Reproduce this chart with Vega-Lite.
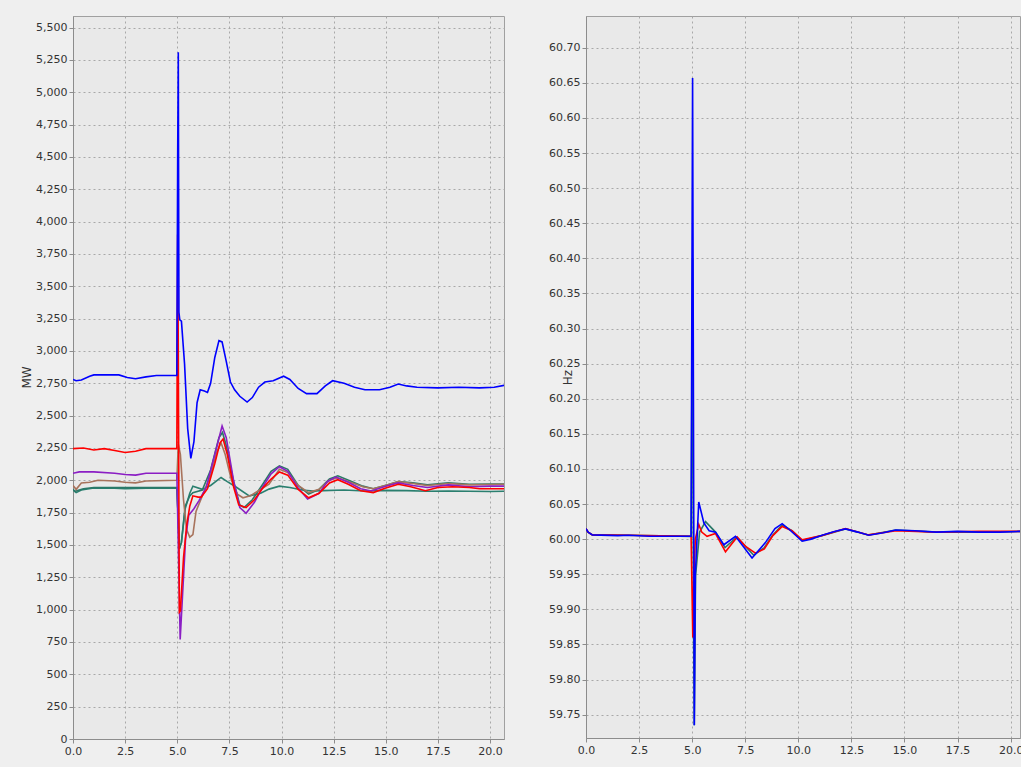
{
 "$schema": "https://vega.github.io/schema/vega-lite/v6.json",
 "background": "#efefef",
 "padding": {"left": 19, "top": 15, "right": 0, "bottom": 15},
 "autosize": {"type": "pad"},
 "bounds": "flush",
 "spacing": 82,
 "config": {
  "view": {"fill": "#e9e9e9", "stroke": "#a0a0a0"},
  "axis": {"labelFont": "DejaVu Sans", "labelFontSize": 11, "labelColor": "#333333", "domainColor": "#8c8c8c", "tickColor": "#8c8c8c", "tickSize": 4, "gridColor": "#a8a8a8", "gridDash": [2, 3], "gridOpacity": 1, "titleFont": "DejaVu Sans", "titleFontSize": 12, "titleFontWeight": "normal", "titleColor": "#333333", "labelPadding": 2, "labelFlush": false}
 },
 "datasets": {
  "mw": [
   {"s": "teal2", "t": 0, "v": 1925}, {"s": "teal2", "t": 0.15, "v": 1905}, {"s": "teal2", "t": 0.4, "v": 1925}, {"s": "teal2", "t": 1.0, "v": 1940}, {"s": "teal2", "t": 2.0, "v": 1940}, {"s": "teal2", "t": 2.5, "v": 1935}, {"s": "teal2", "t": 3.5, "v": 1940}, {"s": "teal2", "t": 4.98, "v": 1940}, {"s": "teal2", "t": 5.05, "v": 1700}, {"s": "teal2", "t": 5.1, "v": 1470}, {"s": "teal2", "t": 5.2, "v": 1520}, {"s": "teal2", "t": 5.38, "v": 1780}, {"s": "teal2", "t": 5.6, "v": 1900}, {"s": "teal2", "t": 5.75, "v": 1955}, {"s": "teal2", "t": 6.2, "v": 1930}, {"s": "teal2", "t": 6.6, "v": 1960}, {"s": "teal2", "t": 7.1, "v": 2022}, {"s": "teal2", "t": 7.4, "v": 1990}, {"s": "teal2", "t": 7.8, "v": 1950}, {"s": "teal2", "t": 8.45, "v": 1880}, {"s": "teal2", "t": 9.0, "v": 1900}, {"s": "teal2", "t": 9.4, "v": 1932}, {"s": "teal2", "t": 9.9, "v": 1955}, {"s": "teal2", "t": 10.4, "v": 1945}, {"s": "teal2", "t": 11.0, "v": 1925}, {"s": "teal2", "t": 11.5, "v": 1918}, {"s": "teal2", "t": 12.0, "v": 1920}, {"s": "teal2", "t": 13.0, "v": 1925}, {"s": "teal2", "t": 14.0, "v": 1918}, {"s": "teal2", "t": 15.0, "v": 1922}, {"s": "teal2", "t": 16.0, "v": 1920}, {"s": "teal2", "t": 17.0, "v": 1916}, {"s": "teal2", "t": 18.0, "v": 1918}, {"s": "teal2", "t": 19.0, "v": 1915}, {"s": "teal2", "t": 20.0, "v": 1914}, {"s": "teal2", "t": 20.7, "v": 1915},
   {"s": "teal1", "t": 0, "v": 1930}, {"s": "teal1", "t": 0.1, "v": 1915}, {"s": "teal1", "t": 0.5, "v": 1935}, {"s": "teal1", "t": 1.0, "v": 1945}, {"s": "teal1", "t": 4.98, "v": 1945}, {"s": "teal1", "t": 5.05, "v": 1700}, {"s": "teal1", "t": 5.1, "v": 1470}, {"s": "teal1", "t": 5.2, "v": 1520}, {"s": "teal1", "t": 5.38, "v": 1800}, {"s": "teal1", "t": 5.6, "v": 1880}, {"s": "teal1", "t": 5.75, "v": 1905}, {"s": "teal1", "t": 6.2, "v": 1925}, {"s": "teal1", "t": 6.6, "v": 2080}, {"s": "teal1", "t": 7.0, "v": 2330}, {"s": "teal1", "t": 7.17, "v": 2370}, {"s": "teal1", "t": 7.35, "v": 2270}, {"s": "teal1", "t": 7.7, "v": 1990}, {"s": "teal1", "t": 8.0, "v": 1810}, {"s": "teal1", "t": 8.2, "v": 1790}, {"s": "teal1", "t": 8.6, "v": 1850}, {"s": "teal1", "t": 9.1, "v": 1970}, {"s": "teal1", "t": 9.5, "v": 2070}, {"s": "teal1", "t": 9.9, "v": 2112}, {"s": "teal1", "t": 10.3, "v": 2085}, {"s": "teal1", "t": 10.8, "v": 1960}, {"s": "teal1", "t": 11.3, "v": 1893}, {"s": "teal1", "t": 11.8, "v": 1930}, {"s": "teal1", "t": 12.3, "v": 2010}, {"s": "teal1", "t": 12.7, "v": 2035}, {"s": "teal1", "t": 13.3, "v": 1995}, {"s": "teal1", "t": 13.9, "v": 1955}, {"s": "teal1", "t": 14.4, "v": 1935}, {"s": "teal1", "t": 15.1, "v": 1965}, {"s": "teal1", "t": 15.6, "v": 1990}, {"s": "teal1", "t": 16.3, "v": 1980}, {"s": "teal1", "t": 17.0, "v": 1965}, {"s": "teal1", "t": 18.0, "v": 1980}, {"s": "teal1", "t": 19.0, "v": 1970}, {"s": "teal1", "t": 20.0, "v": 1972}, {"s": "teal1", "t": 20.7, "v": 1972},
   {"s": "brown", "t": 0, "v": 1960}, {"s": "brown", "t": 0.15, "v": 1930}, {"s": "brown", "t": 0.4, "v": 1980}, {"s": "brown", "t": 0.8, "v": 1985}, {"s": "brown", "t": 1.2, "v": 2000}, {"s": "brown", "t": 2.0, "v": 1995}, {"s": "brown", "t": 2.5, "v": 1985}, {"s": "brown", "t": 3.0, "v": 1980}, {"s": "brown", "t": 3.5, "v": 1995}, {"s": "brown", "t": 4.98, "v": 2000}, {"s": "brown", "t": 5.05, "v": 2280}, {"s": "brown", "t": 5.15, "v": 2200}, {"s": "brown", "t": 5.3, "v": 1850}, {"s": "brown", "t": 5.45, "v": 1620}, {"s": "brown", "t": 5.6, "v": 1560}, {"s": "brown", "t": 5.75, "v": 1580}, {"s": "brown", "t": 5.9, "v": 1760}, {"s": "brown", "t": 6.2, "v": 1880}, {"s": "brown", "t": 6.6, "v": 2040}, {"s": "brown", "t": 6.9, "v": 2220}, {"s": "brown", "t": 7.1, "v": 2290}, {"s": "brown", "t": 7.3, "v": 2200}, {"s": "brown", "t": 7.6, "v": 2000}, {"s": "brown", "t": 7.9, "v": 1890}, {"s": "brown", "t": 8.15, "v": 1865}, {"s": "brown", "t": 8.5, "v": 1880}, {"s": "brown", "t": 9.0, "v": 1930}, {"s": "brown", "t": 9.4, "v": 1970}, {"s": "brown", "t": 9.9, "v": 2085}, {"s": "brown", "t": 10.3, "v": 2060}, {"s": "brown", "t": 10.8, "v": 1960}, {"s": "brown", "t": 11.3, "v": 1905}, {"s": "brown", "t": 11.8, "v": 1930}, {"s": "brown", "t": 12.3, "v": 2000}, {"s": "brown", "t": 12.7, "v": 2020}, {"s": "brown", "t": 13.3, "v": 1985}, {"s": "brown", "t": 13.9, "v": 1950}, {"s": "brown", "t": 14.4, "v": 1935}, {"s": "brown", "t": 15.1, "v": 1965}, {"s": "brown", "t": 15.6, "v": 1990}, {"s": "brown", "t": 16.3, "v": 1975}, {"s": "brown", "t": 17.0, "v": 1960}, {"s": "brown", "t": 18.0, "v": 1975}, {"s": "brown", "t": 19.0, "v": 1965}, {"s": "brown", "t": 20.0, "v": 1968}, {"s": "brown", "t": 20.7, "v": 1970},
   {"s": "purple", "t": 0, "v": 2055}, {"s": "purple", "t": 0.3, "v": 2065}, {"s": "purple", "t": 1.0, "v": 2065}, {"s": "purple", "t": 2.0, "v": 2055}, {"s": "purple", "t": 2.5, "v": 2045}, {"s": "purple", "t": 3.0, "v": 2040}, {"s": "purple", "t": 3.5, "v": 2055}, {"s": "purple", "t": 4.98, "v": 2055}, {"s": "purple", "t": 5.05, "v": 1500}, {"s": "purple", "t": 5.14, "v": 770}, {"s": "purple", "t": 5.25, "v": 1100}, {"s": "purple", "t": 5.4, "v": 1550}, {"s": "purple", "t": 5.55, "v": 1730}, {"s": "purple", "t": 5.8, "v": 1780}, {"s": "purple", "t": 6.05, "v": 1845}, {"s": "purple", "t": 6.4, "v": 1950}, {"s": "purple", "t": 6.8, "v": 2200}, {"s": "purple", "t": 7.15, "v": 2420}, {"s": "purple", "t": 7.35, "v": 2330}, {"s": "purple", "t": 7.7, "v": 2000}, {"s": "purple", "t": 8.0, "v": 1790}, {"s": "purple", "t": 8.3, "v": 1745}, {"s": "purple", "t": 8.7, "v": 1830}, {"s": "purple", "t": 9.1, "v": 1950}, {"s": "purple", "t": 9.5, "v": 2050}, {"s": "purple", "t": 9.9, "v": 2105}, {"s": "purple", "t": 10.3, "v": 2070}, {"s": "purple", "t": 10.8, "v": 1940}, {"s": "purple", "t": 11.25, "v": 1855}, {"s": "purple", "t": 11.8, "v": 1900}, {"s": "purple", "t": 12.2, "v": 1990}, {"s": "purple", "t": 12.6, "v": 2025}, {"s": "purple", "t": 13.2, "v": 1985}, {"s": "purple", "t": 13.8, "v": 1935}, {"s": "purple", "t": 14.3, "v": 1918}, {"s": "purple", "t": 15.0, "v": 1955}, {"s": "purple", "t": 15.6, "v": 1980}, {"s": "purple", "t": 16.3, "v": 1960}, {"s": "purple", "t": 17.0, "v": 1945}, {"s": "purple", "t": 18.0, "v": 1965}, {"s": "purple", "t": 19.0, "v": 1950}, {"s": "purple", "t": 20.0, "v": 1955}, {"s": "purple", "t": 20.7, "v": 1955},
   {"s": "red", "t": 0, "v": 2245}, {"s": "red", "t": 0.5, "v": 2250}, {"s": "red", "t": 1.0, "v": 2235}, {"s": "red", "t": 1.5, "v": 2245}, {"s": "red", "t": 2.0, "v": 2230}, {"s": "red", "t": 2.5, "v": 2215}, {"s": "red", "t": 3.0, "v": 2225}, {"s": "red", "t": 3.5, "v": 2245}, {"s": "red", "t": 4.98, "v": 2245}, {"s": "red", "t": 5.02, "v": 3900}, {"s": "red", "t": 5.05, "v": 3000}, {"s": "red", "t": 5.1, "v": 980}, {"s": "red", "t": 5.15, "v": 990}, {"s": "red", "t": 5.3, "v": 1400}, {"s": "red", "t": 5.45, "v": 1650}, {"s": "red", "t": 5.6, "v": 1800}, {"s": "red", "t": 5.75, "v": 1880}, {"s": "red", "t": 6.0, "v": 1870}, {"s": "red", "t": 6.15, "v": 1870}, {"s": "red", "t": 6.45, "v": 1935}, {"s": "red", "t": 6.8, "v": 2130}, {"s": "red", "t": 7.05, "v": 2290}, {"s": "red", "t": 7.2, "v": 2320}, {"s": "red", "t": 7.4, "v": 2200}, {"s": "red", "t": 7.7, "v": 1950}, {"s": "red", "t": 7.95, "v": 1810}, {"s": "red", "t": 8.3, "v": 1790}, {"s": "red", "t": 8.7, "v": 1850}, {"s": "red", "t": 9.1, "v": 1940}, {"s": "red", "t": 9.5, "v": 2010}, {"s": "red", "t": 9.9, "v": 2065}, {"s": "red", "t": 10.3, "v": 2040}, {"s": "red", "t": 10.8, "v": 1930}, {"s": "red", "t": 11.3, "v": 1865}, {"s": "red", "t": 11.8, "v": 1900}, {"s": "red", "t": 12.3, "v": 1980}, {"s": "red", "t": 12.7, "v": 2005}, {"s": "red", "t": 13.2, "v": 1970}, {"s": "red", "t": 13.8, "v": 1920}, {"s": "red", "t": 14.4, "v": 1905}, {"s": "red", "t": 15.0, "v": 1940}, {"s": "red", "t": 15.6, "v": 1970}, {"s": "red", "t": 16.2, "v": 1950}, {"s": "red", "t": 16.9, "v": 1920}, {"s": "red", "t": 17.5, "v": 1945}, {"s": "red", "t": 18.2, "v": 1950}, {"s": "red", "t": 19.0, "v": 1945}, {"s": "red", "t": 19.5, "v": 1935}, {"s": "red", "t": 20.7, "v": 1935},
   {"s": "blue", "t": 0, "v": 2780}, {"s": "blue", "t": 0.15, "v": 2770}, {"s": "blue", "t": 0.4, "v": 2775}, {"s": "blue", "t": 0.8, "v": 2805}, {"s": "blue", "t": 1.0, "v": 2815}, {"s": "blue", "t": 2.2, "v": 2815}, {"s": "blue", "t": 2.6, "v": 2795}, {"s": "blue", "t": 3.0, "v": 2785}, {"s": "blue", "t": 3.5, "v": 2800}, {"s": "blue", "t": 4.0, "v": 2810}, {"s": "blue", "t": 4.98, "v": 2810}, {"s": "blue", "t": 5.02, "v": 4500}, {"s": "blue", "t": 5.05, "v": 5310}, {"s": "blue", "t": 5.08, "v": 3300}, {"s": "blue", "t": 5.12, "v": 3240}, {"s": "blue", "t": 5.2, "v": 3230}, {"s": "blue", "t": 5.35, "v": 2900}, {"s": "blue", "t": 5.5, "v": 2400}, {"s": "blue", "t": 5.65, "v": 2170}, {"s": "blue", "t": 5.8, "v": 2300}, {"s": "blue", "t": 5.95, "v": 2600}, {"s": "blue", "t": 6.1, "v": 2700}, {"s": "blue", "t": 6.3, "v": 2690}, {"s": "blue", "t": 6.45, "v": 2680}, {"s": "blue", "t": 6.6, "v": 2750}, {"s": "blue", "t": 6.8, "v": 2950}, {"s": "blue", "t": 7.0, "v": 3080}, {"s": "blue", "t": 7.15, "v": 3070}, {"s": "blue", "t": 7.35, "v": 2920}, {"s": "blue", "t": 7.55, "v": 2760}, {"s": "blue", "t": 7.75, "v": 2700}, {"s": "blue", "t": 8.0, "v": 2650}, {"s": "blue", "t": 8.35, "v": 2605}, {"s": "blue", "t": 8.6, "v": 2640}, {"s": "blue", "t": 8.9, "v": 2720}, {"s": "blue", "t": 9.2, "v": 2760}, {"s": "blue", "t": 9.6, "v": 2770}, {"s": "blue", "t": 10.1, "v": 2805}, {"s": "blue", "t": 10.4, "v": 2780}, {"s": "blue", "t": 10.8, "v": 2710}, {"s": "blue", "t": 11.2, "v": 2670}, {"s": "blue", "t": 11.7, "v": 2670}, {"s": "blue", "t": 12.1, "v": 2730}, {"s": "blue", "t": 12.45, "v": 2770}, {"s": "blue", "t": 13.0, "v": 2750}, {"s": "blue", "t": 13.5, "v": 2720}, {"s": "blue", "t": 14.0, "v": 2700}, {"s": "blue", "t": 14.7, "v": 2700}, {"s": "blue", "t": 15.2, "v": 2720}, {"s": "blue", "t": 15.6, "v": 2745}, {"s": "blue", "t": 16.0, "v": 2730}, {"s": "blue", "t": 16.5, "v": 2720}, {"s": "blue", "t": 17.5, "v": 2715}, {"s": "blue", "t": 18.5, "v": 2720}, {"s": "blue", "t": 19.5, "v": 2715}, {"s": "blue", "t": 20.2, "v": 2720}, {"s": "blue", "t": 20.7, "v": 2735}
  ],
  "hz": [
   {"s": "teal1", "t": 0, "v": 60.015}, {"s": "teal1", "t": 0.1, "v": 60.01}, {"s": "teal1", "t": 0.3, "v": 60.006}, {"s": "teal1", "t": 2.0, "v": 60.0055}, {"s": "teal1", "t": 4.95, "v": 60.004}, {"s": "teal1", "t": 5.02, "v": 60.4}, {"s": "teal1", "t": 5.06, "v": 59.9}, {"s": "teal1", "t": 5.1, "v": 59.735}, {"s": "teal1", "t": 5.16, "v": 59.948}, {"s": "teal1", "t": 5.35, "v": 60.01}, {"s": "teal1", "t": 5.63, "v": 60.025}, {"s": "teal1", "t": 6.1, "v": 60.01}, {"s": "teal1", "t": 6.55, "v": 59.988}, {"s": "teal1", "t": 7.1, "v": 60.003}, {"s": "teal1", "t": 7.5, "v": 59.99}, {"s": "teal1", "t": 7.9, "v": 59.977}, {"s": "teal1", "t": 8.4, "v": 59.988}, {"s": "teal1", "t": 8.8, "v": 60.006}, {"s": "teal1", "t": 9.24, "v": 60.02}, {"s": "teal1", "t": 9.7, "v": 60.012}, {"s": "teal1", "t": 10.18, "v": 59.998}, {"s": "teal1", "t": 11.1, "v": 60.005}, {"s": "teal1", "t": 12.22, "v": 60.0145}, {"s": "teal1", "t": 13.3, "v": 60.006}, {"s": "teal1", "t": 14.6, "v": 60.013}, {"s": "teal1", "t": 16.5, "v": 60.01}, {"s": "teal1", "t": 18.5, "v": 60.01}, {"s": "teal1", "t": 20.44, "v": 60.011},
   {"s": "red", "t": 0, "v": 60.015}, {"s": "red", "t": 0.1, "v": 60.01}, {"s": "red", "t": 0.3, "v": 60.006}, {"s": "red", "t": 2.0, "v": 60.0055}, {"s": "red", "t": 4.95, "v": 60.004}, {"s": "red", "t": 5.03, "v": 59.86}, {"s": "red", "t": 5.08, "v": 59.95}, {"s": "red", "t": 5.15, "v": 60.0}, {"s": "red", "t": 5.31, "v": 60.021}, {"s": "red", "t": 5.45, "v": 60.01}, {"s": "red", "t": 5.7, "v": 60.004}, {"s": "red", "t": 6.1, "v": 60.008}, {"s": "red", "t": 6.57, "v": 59.982}, {"s": "red", "t": 7.12, "v": 60.003}, {"s": "red", "t": 7.5, "v": 59.99}, {"s": "red", "t": 7.98, "v": 59.98}, {"s": "red", "t": 8.4, "v": 59.986}, {"s": "red", "t": 8.8, "v": 60.005}, {"s": "red", "t": 9.24, "v": 60.018}, {"s": "red", "t": 9.7, "v": 60.012}, {"s": "red", "t": 10.18, "v": 59.999}, {"s": "red", "t": 11.1, "v": 60.005}, {"s": "red", "t": 12.22, "v": 60.015}, {"s": "red", "t": 13.3, "v": 60.006}, {"s": "red", "t": 14.6, "v": 60.012}, {"s": "red", "t": 16.5, "v": 60.01}, {"s": "red", "t": 18.5, "v": 60.011}, {"s": "red", "t": 20.44, "v": 60.011},
   {"s": "blue", "t": 0, "v": 60.015}, {"s": "blue", "t": 0.1, "v": 60.01}, {"s": "blue", "t": 0.3, "v": 60.006}, {"s": "blue", "t": 1.5, "v": 60.005}, {"s": "blue", "t": 2.0, "v": 60.0055}, {"s": "blue", "t": 3.0, "v": 60.004}, {"s": "blue", "t": 4.95, "v": 60.004}, {"s": "blue", "t": 5.02, "v": 60.657}, {"s": "blue", "t": 5.06, "v": 60.2}, {"s": "blue", "t": 5.1, "v": 59.735}, {"s": "blue", "t": 5.15, "v": 59.95}, {"s": "blue", "t": 5.31, "v": 60.053}, {"s": "blue", "t": 5.55, "v": 60.023}, {"s": "blue", "t": 5.8, "v": 60.012}, {"s": "blue", "t": 6.1, "v": 60.01}, {"s": "blue", "t": 6.49, "v": 59.992}, {"s": "blue", "t": 7.04, "v": 60.004}, {"s": "blue", "t": 7.4, "v": 59.99}, {"s": "blue", "t": 7.82, "v": 59.973}, {"s": "blue", "t": 8.45, "v": 59.995}, {"s": "blue", "t": 8.9, "v": 60.015}, {"s": "blue", "t": 9.24, "v": 60.022}, {"s": "blue", "t": 9.6, "v": 60.013}, {"s": "blue", "t": 10.18, "v": 59.997}, {"s": "blue", "t": 10.6, "v": 60.0}, {"s": "blue", "t": 11.12, "v": 60.0055}, {"s": "blue", "t": 11.7, "v": 60.011}, {"s": "blue", "t": 12.22, "v": 60.0145}, {"s": "blue", "t": 12.8, "v": 60.01}, {"s": "blue", "t": 13.32, "v": 60.0055}, {"s": "blue", "t": 14.0, "v": 60.009}, {"s": "blue", "t": 14.58, "v": 60.013}, {"s": "blue", "t": 15.5, "v": 60.012}, {"s": "blue", "t": 16.5, "v": 60.01}, {"s": "blue", "t": 17.5, "v": 60.011}, {"s": "blue", "t": 18.5, "v": 60.01}, {"s": "blue", "t": 19.5, "v": 60.01}, {"s": "blue", "t": 20.44, "v": 60.011}
  ]
 },
 "hconcat": [
  {
   "width": 431,
   "height": 723,
   "data": {"name": "mw"},
   "mark": {"type": "line", "strokeWidth": 1.6, "clip": true},
   "encoding": {
    "x": {"field": "t", "type": "quantitative", "scale": {"domain": [0, 20.67], "nice": false, "zero": false}, "axis": {"title": null, "values": [0, 2.5, 5, 7.5, 10, 12.5, 15, 17.5, 20], "format": ".1f"}},
    "y": {"field": "v", "type": "quantitative", "scale": {"domain": [0, 5590], "nice": false}, "axis": {"title": "MW", "titleX": -47, "titleY": 361, "titleBaseline": "middle", "values": [0, 250, 500, 750, 1000, 1250, 1500, 1750, 2000, 2250, 2500, 2750, 3000, 3250, 3500, 3750, 4000, 4250, 4500, 4750, 5000, 5250, 5500], "format": ",d"}},
    "color": {"field": "s", "type": "nominal", "legend": null, "sort": ["teal2", "teal1", "brown", "purple", "red", "blue"], "scale": {"domain": ["teal2", "teal1", "brown", "purple", "red", "blue"], "range": ["#2a7f6f", "#2a7868", "#a8735c", "#8b1ec4", "#ff0000", "#0000ff"]}},
    "detail": {"field": "s"}
   }
  },
  {
   "width": 434,
   "height": 722,
   "data": {"name": "hz"},
   "mark": {"type": "line", "strokeWidth": 1.6, "clip": true},
   "encoding": {
    "x": {"field": "t", "type": "quantitative", "scale": {"domain": [0, 20.44], "nice": false, "zero": false}, "axis": {"title": null, "values": [0, 2.5, 5, 7.5, 10, 12.5, 15, 17.5, 20], "format": ".1f"}},
    "y": {"field": "v", "type": "quantitative", "scale": {"domain": [59.7167, 60.7452], "nice": false, "zero": false}, "axis": {"title": "Hz", "titleX": -19, "titleY": 361, "titleBaseline": "middle", "values": [59.75, 59.8, 59.85, 59.9, 59.95, 60.0, 60.05, 60.1, 60.15, 60.2, 60.25, 60.3, 60.35, 60.4, 60.45, 60.5, 60.55, 60.6, 60.65, 60.7], "format": ".2f"}},
    "color": {"field": "s", "type": "nominal", "legend": null, "scale": {"domain": ["teal1", "red", "blue"], "range": ["#2a7868", "#ff0000", "#0000ff"]}},
    "detail": {"field": "s"}
   }
  }
 ]
}
